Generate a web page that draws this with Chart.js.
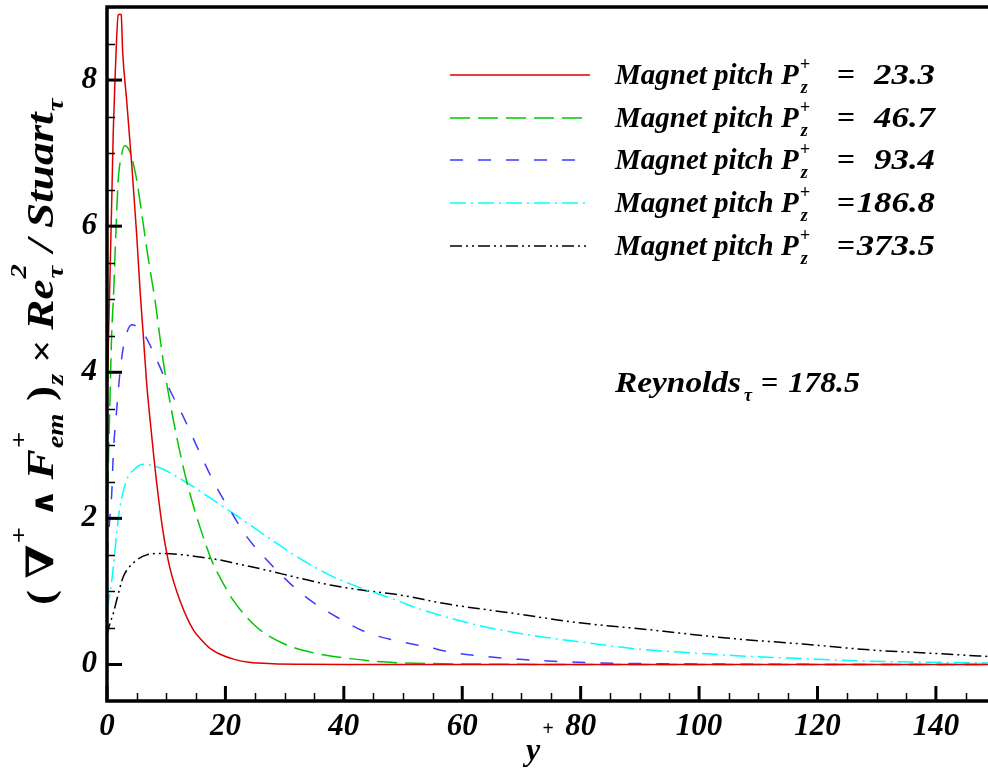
<!DOCTYPE html>
<html><head><meta charset="utf-8">
<script src="https://cdn.jsdelivr.net/npm/chart.js@4"></script>
<style>html,body{margin:0;padding:0;background:#fff;overflow:hidden}#wrap{width:988px;height:769px;position:relative}</style>
</head><body><div id="wrap"><canvas id="c" width="988" height="769"></canvas></div>
<script>
// ---- data ----
const pitchLabels = ['23.3', '46.7', '93.4', '186.8', '373.5'];
const reynoldsValue = '178.5';

const redX = [0, 0.5, 0.8, 1.06, 1.35, 1.9, 2.2, 2.4, 2.65, 3.3, 4.2, 5.0, 5.6, 6.1, 6.7, 7.5, 8.4, 9.5, 10.6, 12.3, 14.6, 15.7, 17.4, 19.1, 21.5, 24, 28, 33, 40, 60, 100, 148.8];
const redY = [3.6, 5.3, 6.35, 7.3, 8.0, 8.89, 8.9, 8.89, 8.38, 7.74, 6.82, 5.9, 5.1, 4.54, 3.85, 3.17, 2.48, 1.80, 1.33, 0.88, 0.47, 0.36, 0.22, 0.14, 0.07, 0.03, 0.01, 0.003, 0, 0, 0, 0];

const greenX = [0, 0.5, 0.8, 1.07, 1.5, 1.9, 2.3, 3.0, 3.9, 5.0, 5.85, 7.0, 8.1, 9.0, 9.8, 11.2, 12.6, 14.0, 15.7, 17.9, 19.1, 21.3, 25.3, 29.7, 35.4, 41, 47.8, 55, 65, 80, 100, 148.8];
const greenY = [2.0, 3.62, 4.55, 4.99, 5.91, 6.64, 6.91, 7.10, 7.01, 6.64, 6.18, 5.54, 4.99, 4.44, 3.99, 3.35, 2.80, 2.34, 1.88, 1.38, 1.19, 0.88, 0.51, 0.29, 0.15, 0.08, 0.03, 0.012, 0.004, 0, 0, 0];

const blueX = [0, 0.5, 0.8, 1.07, 1.63, 2.3, 3.0, 4.2, 6.1, 8.4, 10.6, 12.9, 15.1, 17.4, 19.1, 20.8, 23.6, 27, 30.9, 34.3, 38.8, 43.8, 48.6, 54, 59, 64, 69.7, 79.8, 85.4, 95.5, 110, 148.8];
const blueY = [1.5, 2.02, 2.34, 2.89, 3.48, 4.08, 4.44, 4.65, 4.54, 4.17, 3.76, 3.39, 3.0, 2.6, 2.34, 2.11, 1.75, 1.43, 1.11, 0.88, 0.65, 0.44, 0.33, 0.24, 0.155, 0.11, 0.07, 0.03, 0.018, 0.01, 0.003, 0];

const cyanX = [0, 0.5, 1.07, 1.63, 2.2, 3.3, 4.45, 6.1, 9.0, 11.8, 14.6, 17.4, 21.3, 27, 32.6, 38.2, 43.8, 48.9, 51.7, 57.3, 63, 68.6, 74.2, 79.8, 85.5, 91.1, 96.7, 106.3, 117.5, 128.8, 140, 148.8];
const cyanY = [0.75, 0.97, 1.33, 1.80, 2.16, 2.52, 2.66, 2.74, 2.69, 2.57, 2.43, 2.28, 2.07, 1.75, 1.45, 1.20, 1.02, 0.88, 0.79, 0.65, 0.53, 0.44, 0.37, 0.31, 0.25, 0.20, 0.17, 0.12, 0.08, 0.045, 0.03, 0.02];

const blackX = [0, 0.39, 1.07, 1.63, 2.75, 4.45, 6.7, 9.0, 12.9, 15.7, 19.1, 21.3, 27, 32.6, 38.2, 43.8, 49.5, 57.3, 68.6, 79.8, 91.1, 96.7, 106.3, 117.5, 128.8, 140, 148.8];
const blackY = [0.4, 0.53, 0.70, 0.88, 1.20, 1.39, 1.50, 1.52, 1.50, 1.47, 1.43, 1.39, 1.29, 1.18, 1.08, 1.01, 0.95, 0.83, 0.70, 0.57, 0.48, 0.43, 0.35, 0.28, 0.20, 0.15, 0.11];

const xTickValues = [0, 20, 40, 60, 80, 100, 120, 140];
const yTickValues = [0, 2, 4, 6, 8];
const xRange = [0, 148.8];
const yRange = [-0.5, 9.0];

// ---- styles ----
const colors = ['#dd0000', '#00c800', '#3c3cff', '#00ffff', '#000000'];
const dashes = [[], [20, 8], [13, 15], [16, 5, 2, 5], [12, 4, 2, 4, 2, 4]];
const FAM = "'Liberation Serif','DejaVu Serif',serif";
const BI = (s) => `italic bold ${s}px ${FAM}`;
const BU = (s) => `bold ${s}px ${FAM}`;

const zip = (xs, ys) => xs.map((x, i) => ({x, y: ys[i]}));
const seriesXY = [[redX, redY], [greenX, greenY], [blueX, blueY], [cyanX, cyanY], [blackX, blackY]];

const datasets = seriesXY.map((s, i) => ({
  label: 'Magnet pitch P+z = ' + pitchLabels[i],
  data: zip(s[0], s[1]),
  borderColor: colors[i],
  borderDash: dashes[i],
  borderWidth: 1.5,
  pointRadius: 0,
  fill: false,
  cubicInterpolationMode: 'monotone'
}));

// draw text with optional horizontal stretch; returns advance width
function txt(ctx, t, font, x, y, sx = 1, align = 'left') {
  ctx.font = font;
  const w = ctx.measureText(t).width * sx;
  const x0 = align === 'right' ? x - w : x;
  ctx.save();
  ctx.translate(x0, y);
  ctx.scale(sx, 1);
  ctx.textAlign = 'left';
  ctx.fillText(t, 0, 0);
  ctx.restore();
  return w;
}

const decor = {
  id: 'decor',
  afterDatasetsDraw(chart) {
    const ctx = chart.ctx, a = chart.chartArea;
    const xs = chart.scales.x, ys = chart.scales.y;
    ctx.save();
    ctx.strokeStyle = '#000';
    ctx.setLineDash([]);
    ctx.lineWidth = 1.5;
    for (let v = 0; v <= 9; v += 0.5) {
      if (v % 2 === 0) continue;
      const p = Math.round(ys.getPixelForValue(v)) + 0.5;
      ctx.beginPath(); ctx.moveTo(a.left, p); ctx.lineTo(a.left + 8, p); ctx.stroke();
    }
    for (let v = 0; v <= 148; v += 5) {
      if (v % 20 === 0) continue;
      const p = Math.round(xs.getPixelForValue(v)) + 0.5;
      ctx.beginPath(); ctx.moveTo(p, a.bottom); ctx.lineTo(p, a.bottom - 8); ctx.stroke();
    }
    ctx.lineWidth = 3;
    yTickValues.forEach(v => {
      const p = ys.getPixelForValue(v);
      ctx.beginPath(); ctx.moveTo(a.left, p); ctx.lineTo(a.left + 15, p); ctx.stroke();
    });
    xTickValues.forEach(v => {
      const p = xs.getPixelForValue(v);
      ctx.beginPath(); ctx.moveTo(p, a.bottom); ctx.lineTo(p, a.bottom - 15); ctx.stroke();
    });
    ctx.lineWidth = 3.5;
    ctx.beginPath();
    ctx.moveTo(a.right + 2, a.top); ctx.lineTo(a.left, a.top); ctx.lineTo(a.left, a.bottom); ctx.lineTo(a.right + 2, a.bottom);
    ctx.stroke();
    ctx.restore();
  },
  afterDraw(chart) {
    const ctx = chart.ctx;
    ctx.save();
    ctx.fillStyle = '#000';
    ctx.textBaseline = 'alphabetic';

    // ---- legend ----
    const rowY = [75, 118, 160, 203, 246];
    rowY.forEach((y, i) => {
      ctx.strokeStyle = colors[i];
      ctx.lineWidth = 1.5;
      ctx.setLineDash(dashes[i]);
      ctx.beginPath(); ctx.moveTo(450, y); ctx.lineTo(590, y); ctx.stroke();
      ctx.setLineDash([]);
      const bx = 615, by = y + 9;
      const w = txt(ctx, 'Magnet pitch P', BI(29), bx, by);
      txt(ctx, '+', BI(18), bx + w + 1, by - 14);
      txt(ctx, 'z', BI(18), bx + w + 2, by + 9);
      txt(ctx, '=', BU(29), 837, by, 1.1);
      txt(ctx, pitchLabels[i], BI(29), 935, by, 1.2, 'right');
    });

    // ---- Reynolds annotation ----
    {
      let x = 615; const by = 392;
      x += txt(ctx, 'Reynolds', BI(29), x, by, 1.15);
      x += txt(ctx, 'τ', BI(18), x + 3, by + 9) + 12;
      x += txt(ctx, '=', BU(29), x, by, 1.05) + 8;
      txt(ctx, reynoldsValue, BI(29), 860, by, 1.1, 'right');
    }

    // ---- x axis title ----
    {
      const x = 526, by = 760;
      const w = txt(ctx, 'y', BI(32), x, by);
      txt(ctx, '+', BI(20), x + w + 2, by - 25);
    }

    // ---- y axis title (rotated) ----
    {
      const F = 38, S = 24, SX = 1.19;
      const segs = [
        {t: '( ', f: BU(F)},
        {t: '∇', f: BU(F)}, {sup: '+', sub: ''},
        {t: ' ∧ ', f: BU(F - 8)},
        {t: 'F', f: BI(F)}, {sup: '+', sub: 'em'},
        {t: ' )', f: BU(F)}, {sup: '', sub: 'z'},
        {t: ' × ', f: BU(F - 4)},
        {t: 'Re', f: BI(F)}, {sup: '2', sub: 'τ'},
        {t: ' / ', f: BI(F)},
        {t: 'Stuart', f: BI(F)}, {sup: '', sub: 'τ'}
      ];
      ctx.translate(53, 605);
      ctx.rotate(-Math.PI / 2);
      let x = 0;
      segs.forEach(s => {
        if (s.t !== undefined) { x += txt(ctx, s.t, s.f, x, 0, SX); }
        else {
          ctx.font = BI(S);
          const w = Math.max(ctx.measureText(s.sup).width, ctx.measureText(s.sub).width) * SX;
          if (s.sup) txt(ctx, s.sup, BI(S), x + 1, -27, SX);
          if (s.sub) txt(ctx, s.sub, BI(S), x + 1, 10, SX);
          x += w + 2;
        }
      });
    }
    ctx.restore();
  }
};

const tickFont = {family: FAM, size: 31, style: 'italic', weight: 'bold'};

new Chart(document.getElementById('c'), {
  type: 'line',
  data: {datasets},
  options: {
    responsive: false,
    animation: false,
    devicePixelRatio: 1,
    layout: {padding: {top: 7, right: 0, left: 0, bottom: 0}},
    plugins: {legend: {display: false}, tooltip: {enabled: false}, title: {display: false}},
    scales: {
      x: {
        type: 'linear', min: xRange[0], max: xRange[1],
        afterBuildTicks: ax => { ax.ticks = xTickValues.map(v => ({value: v})); },
        afterFit: ax => { ax.height = 68; ax.paddingLeft = 0; ax.paddingRight = 0; ax.paddingTop = 0; ax.paddingBottom = 0; },
        grid: {display: false, drawTicks: false},
        border: {display: false},
        ticks: {padding: 7, color: '#000', maxRotation: 0, autoSkip: false, font: tickFont}
      },
      y: {
        type: 'linear', min: yRange[0], max: yRange[1],
        afterBuildTicks: ax => { ax.ticks = yTickValues.map(v => ({value: v})); },
        afterFit: ax => { ax.width = 107; ax.paddingTop = 0; ax.paddingBottom = 0; ax.paddingLeft = 0; ax.paddingRight = 0; },
        grid: {display: false, drawTicks: false},
        border: {display: false},
        ticks: {padding: 10, color: '#000', font: tickFont}
      }
    }
  },
  plugins: [decor]
});
</script>
</body></html>
